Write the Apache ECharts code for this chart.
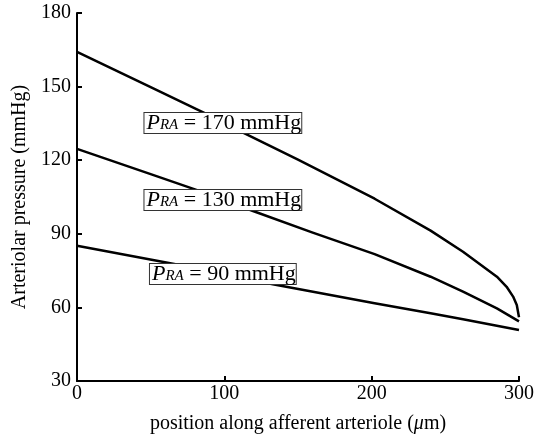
<!DOCTYPE html>
<html>
<head>
<meta charset="utf-8">
<script src="https://cdn.jsdelivr.net/npm/echarts@6/dist/echarts.min.js"></script>
<style>html,body{margin:0;padding:0;background:#fff}#c{width:535px;height:438px}</style>
</head>
<body>
<div id="c"></div>
<script>
// Data
const xTop = [0, 50, 86, 112, 150, 202, 240, 262, 285, 291.6, 296, 298.5, 300];
const yTop = [164.2, 149.8, 139.4, 131.4, 120.2, 104.3, 91.3, 82.7, 72.5, 68.4, 64.4, 61.0, 56];
const xMid = [0, 50, 81, 119, 160, 202, 240, 262, 285, 300];
const yMid = [124.6, 114.3, 107.9, 99.4, 90.5, 81.7, 72.5, 66.4, 59.6, 54.3];
const xBot = [0, 66, 132, 202, 240, 262, 300];
const yBot = [85.1, 77.7, 69.5, 61.7, 57.6, 55.2, 50.8];
const seriesPRA = ['170', '130', '90'];
const labelPos = [[99, 135.2], [99, 103.8], [99, 73.6]];
const xTicks = [0, 100, 200, 300];
const yTicks = [30, 60, 90, 120, 150, 180];

const font = 'Liberation Serif, DejaVu Serif, serif';
const pairs = (xs, ys) => xs.map((x, i) => [x, ys[i]]);
const sets = [pairs(xTop, yTop), pairs(xMid, yMid), pairs(xBot, yBot)];

const chart = echarts.init(document.getElementById('c'), null, {renderer: 'canvas'});
chart.setOption({
  animation: false,
  backgroundColor: '#fff',
  grid: {left: 77, right: 16, top: 13, bottom: 57, containLabel: false, outerBoundsMode: 'none'},
  xAxis: {
    type: 'value', min: xTicks[0], max: xTicks[xTicks.length - 1], interval: 100,
    axisLine: {lineStyle: {color: '#000', width: 2}},
    axisTick: {inside: true, length: 5, lineStyle: {color: '#000', width: 2}},
    splitLine: {show: false},
    axisLabel: {color: '#000', fontFamily: font, fontSize: 20, margin: 3},
    name: 'position along afferent arteriole ({i|μ}m)',
    nameLocation: 'middle', nameGap: 33,
    nameTextStyle: {color: '#000', fontFamily: font, fontSize: 20,
      rich: {i: {fontStyle: 'italic', fontFamily: font, fontSize: 20, color: '#000'}}}
  },
  yAxis: {
    type: 'value', min: yTicks[0], max: yTicks[yTicks.length - 1], interval: 30,
    axisLine: {show: true, lineStyle: {color: '#000', width: 2}},
    axisTick: {show: true, inside: true, length: 5, lineStyle: {color: '#000', width: 2}},
    splitLine: {show: false},
    axisLabel: {color: '#000', fontFamily: font, fontSize: 20, margin: 6},
    name: 'Arteriolar pressure (mmHg)',
    nameLocation: 'middle', nameGap: 46,
    nameTextStyle: {color: '#000', fontFamily: font, fontSize: 20}
  },
  series: sets.map((d, k) => ({
    type: 'line', data: d, showSymbol: false, smooth: false,
    lineStyle: {color: '#000', width: 2.5, join: 'round'},
    z: 2,
    markPoint: {
      symbol: 'rect', symbolSize: 0, silent: true,
      data: [{coord: labelPos[k], value: seriesPRA[k]}],
      label: {
        show: true, position: 'inside',
        formatter: '{p|P}{s|RA}{t| = ' + seriesPRA[k] + ' mmHg}',
        backgroundColor: '#fff', borderColor: '#333', borderWidth: 1,
        padding: [0, 0, 0, 2],
        rich: {
          p: {fontFamily: font, fontStyle: 'italic', fontSize: 22, color: '#000', lineHeight: 20},
          s: {fontFamily: font, fontStyle: 'italic', fontSize: 15, color: '#000', lineHeight: 20, verticalAlign: 'bottom', padding: [8, 0, 0, 0]},
          t: {fontFamily: font, fontSize: 22, color: '#000', lineHeight: 20}
        }
      }
    }
  }))
});
</script>
</body>
</html>
